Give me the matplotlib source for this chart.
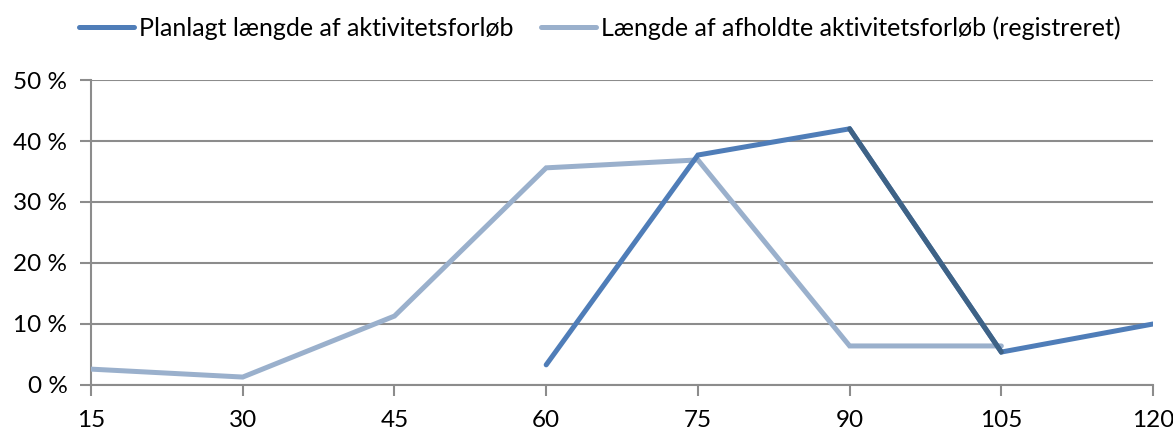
import matplotlib
matplotlib.use("Agg")
import matplotlib.pyplot as plt
from matplotlib.ticker import FuncFormatter

plt.rcParams['font.family'] = ['Lato', 'DejaVu Sans']

categories = ['15', '30', '45', '60', '75', '90', '105', '120']
planned = [None, None, None, 3.3, 37.7, 42.0, 5.4, 10.0]
held = [2.6, 1.3, 11.3, 35.6, 36.9, 6.4, 6.4, None]

planned_label = 'Planlagt længde af aktivitetsforløb'
held_label = 'Længde af afholdte aktivitetsforløb (registreret)'

c_planned = '#4f7db8'
c_planned_dark = '#3e6286'
c_held = '#9ab0cc'
c_grid = '#8c8c8c'

fig = plt.figure(figsize=(11.73, 4.29), dpi=100)
ax = fig.add_axes([0.0776, 0.1026, 0.9054, 0.7109])

x = list(range(len(categories)))
hx = [i for i, v in zip(x, held) if v is not None]
hy = [v for v in held if v is not None]
px = [i for i, v in zip(x, planned) if v is not None]
py = [v for v in planned if v is not None]

ax.plot(hx, hy, color=c_held, lw=3.6, solid_capstyle='round', solid_joinstyle='miter', label=held_label, zorder=3)
ax.plot(px, py, color=c_planned, lw=3.6, solid_capstyle='round', solid_joinstyle='miter', label=planned_label, zorder=4)
# darker highlighted segment 90 -> 105
ax.plot(x[5:7], planned[5:7], color=c_planned_dark, lw=3.6, solid_capstyle='round', zorder=5)

ax.set_xlim(0, len(categories) - 1)
ax.set_ylim(0, 50)
ax.set_xticks(x)
ax.set_xticklabels(categories)
ax.set_yticks(range(0, 51, 10))
ax.yaxis.set_major_formatter(FuncFormatter(lambda v, p: f'{int(v)} %'))
ax.grid(axis='y', color=c_grid, lw=1.5)
ax.set_axisbelow(True)

for s in ['top', 'right']:
    ax.spines[s].set_visible(False)
for s in ['left', 'bottom']:
    ax.spines[s].set_color(c_grid)
    ax.spines[s].set_linewidth(1.5)
ax.tick_params(axis='both', colors=c_grid, labelcolor='black', labelsize=17.5, length=8, width=1.5)
ax.tick_params(axis='x', direction='out', pad=10)
ax.tick_params(axis='y', direction='out', pad=9)
ax.spines['bottom'].set_zorder(6)

h, l = ax.get_legend_handles_labels()
fig.legend([h[1], h[0]], [l[1], l[0]], loc='upper center', bbox_to_anchor=(0.511, 1.015),
           ncol=2, frameon=False, fontsize=18, handlelength=2.2, handletextpad=0.2,
           columnspacing=1.1)

fig.savefig('out.png', dpi=100)
